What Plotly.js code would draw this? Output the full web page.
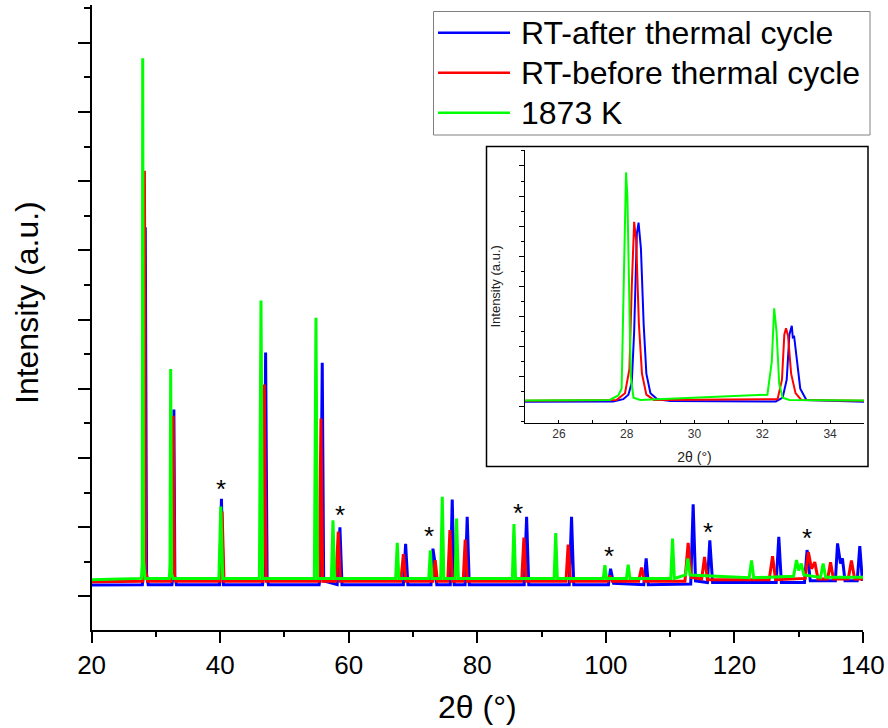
<!DOCTYPE html>
<html>
<head>
<meta charset="utf-8">
<script src="https://cdn.plot.ly/plotly-3.0.1.min.js"></script>
<style>html,body{margin:0;padding:0;background:#fff;}#chart{width:888px;height:728px;}</style>
</head>
<body>
<div id="chart"></div>
<script>
// ---------- Main pattern data (2θ in degrees, intensity in a.u.) ----------
const seriesNames = ['RT-after thermal cycle', 'RT-before thermal cycle', '1873 K'];
const seriesColors = ['#0000FF', '#FF0000', '#00FF00'];

const blueX = [20, 27.9, 28.15, 28.35, 28.55, 28.8, 32.5, 32.7, 32.8, 32.95, 33.2, 39.9, 40.2, 40.5,
  46.6, 46.85, 47.07, 47.3, 47.5, 55.4, 55.6, 55.88, 56.1, 58.2, 58.63, 58.95, 68.5, 68.85, 69.2,
  72.8, 73.1, 73.4, 73.7, 75.8, 76.1, 76.4, 78.1, 78.43, 78.75, 87.3, 87.67, 88.0, 94.3, 94.66, 95.0,
  100.4, 100.73, 101.2, 105.9, 106.27, 106.6, 113.2, 113.58, 113.95, 115.8, 116.17, 116.6,
  126.5, 126.9, 127.3, 130.9, 131.3, 131.8, 135.7, 136.04, 136.5, 136.8, 137.2, 139.1, 139.5, 139.9];
const blueY = [0.33, 0.34, 0.75, 10.67, 0.65, 0.34, 0.34, 0.65, 5.4, 0.6, 0.34, 0.34, 2.82, 0.34,
  0.34, 0.85, 7.05, 0.55, 0.34, 0.34, 0.65, 6.75, 0.45, 0.34, 2.0, 0.34, 0.34, 1.52, 0.34,
  0.34, 1.38, 1.0, 0.34, 0.34, 2.8, 0.34, 0.34, 2.3, 0.34, 0.34, 2.3, 0.34, 0.34, 2.3, 0.34,
  0.34, 0.8, 0.38, 0.34, 1.1, 0.34, 0.36, 2.66, 0.45, 0.4, 1.62, 0.4,
  0.4, 1.72, 0.4, 0.4, 1.34, 0.45, 0.45, 1.53, 0.95, 1.1, 0.45, 0.45, 1.45, 0.45];

const redX = [20, 27.95, 28.1, 28.22, 28.4, 28.7, 32.4, 32.55, 32.7, 32.9, 33.1, 40.0, 40.3, 40.6,
  46.6, 46.86, 47.15, 55.4, 55.68, 55.95, 58.0, 58.37, 58.7, 68.1, 68.5, 68.9, 73.1, 73.45, 73.8,
  75.4, 75.74, 76.1, 77.8, 78.12, 78.45, 86.9, 87.25, 87.6, 93.8, 94.13, 94.5, 100.3, 100.6, 101.0,
  105.1, 105.55, 106.0, 112.3, 112.8, 113.3, 114.9, 115.35, 115.8, 125.4, 125.93, 126.4,
  131.0, 131.5, 132.0, 132.5, 133.0, 134.5, 134.95, 135.4, 137.7, 138.2, 138.7, 140];
const redY = [0.42, 0.44, 0.95, 12.3, 0.75, 0.44, 0.44, 0.75, 5.22, 0.55, 0.44, 0.44, 2.45, 0.44,
  0.44, 6.12, 0.44, 0.44, 5.14, 0.44, 0.44, 1.87, 0.44, 0.44, 1.22, 0.44, 0.44, 1.05, 0.44,
  0.44, 1.92, 0.44, 0.44, 1.64, 0.44, 0.44, 1.7, 0.44, 0.44, 1.5, 0.44, 0.44, 0.6, 0.44,
  0.44, 0.83, 0.44, 0.44, 1.55, 0.55, 0.5, 1.14, 0.48, 0.48, 1.16, 0.48,
  0.52, 1.28, 0.8, 0.99, 0.5, 0.5, 0.99, 0.5, 0.5, 1.04, 0.5, 0.5];

const greenX = [20, 27.75, 27.88, 27.95, 28.08, 28.3, 32.1, 32.2, 32.3, 32.45, 32.7, 39.8, 40.1, 40.4,
  46.1, 46.35, 46.6, 54.65, 54.9, 55.15, 57.3, 57.55, 57.8, 67.3, 67.55, 67.8, 72.45, 72.7, 72.95,
  74.3, 74.55, 74.8, 76.55, 76.78, 77.05, 85.45, 85.7, 85.95, 91.95, 92.2, 92.45, 99.6, 99.85, 100.1,
  103.2, 103.47, 103.75, 110.1, 110.37, 110.65, 112.4, 112.75, 113.1, 122.3, 122.66, 123.0,
  129.2, 129.66, 130.0, 130.4, 130.8, 133.4, 133.8, 134.2, 140];
const greenY = [0.48, 0.52, 0.95, 15.55, 1.05, 0.52, 0.52, 0.95, 6.57, 0.65, 0.52, 0.52, 2.6, 0.52,
  0.52, 8.55, 0.52, 0.52, 8.05, 0.52, 0.52, 2.2, 0.52, 0.52, 1.55, 0.52, 0.52, 1.33, 0.52,
  0.52, 2.88, 0.52, 0.52, 2.25, 0.52, 0.52, 2.09, 0.52, 0.52, 1.83, 0.52, 0.52, 0.9, 0.52,
  0.52, 0.92, 0.52, 0.52, 1.67, 0.52, 0.62, 1.1, 0.62, 0.54, 1.04, 0.54,
  0.58, 1.05, 0.75, 0.95, 0.62, 0.55, 0.95, 0.55, 0.55];

// asterisk markers (phase peaks)
const starX = [40.2, 58.63, 72.5, 86.36, 100.47, 115.9, 131.3];
const starY = [3.26, 2.51, 1.9, 2.55, 1.31, 2.01, 1.82];

// ---------- Inset data (zoom on 25–35°) ----------
const insetBlueX = [25, 27.6, 27.9, 28.05, 28.15, 28.22, 28.3, 28.35, 28.42, 28.5, 28.58, 28.7, 28.9, 29.3,
  32.4, 32.6, 32.72, 32.8, 32.87, 32.9, 32.94, 33.02, 33.12, 33.3, 35];
const insetBlueY = [0.33, 0.35, 0.5, 0.8, 1.6, 5, 11.5, 12.23, 10.5, 5.5, 2.2, 0.9, 0.5, 0.38,
  0.35, 0.6, 1.8, 4.8, 5.38, 4.6, 4.65, 3, 1.2, 0.45, 0.33];
const insetRedX = [25, 27.7, 27.95, 28.08, 28.15, 28.22, 28.28, 28.36, 28.45, 28.58, 28.8,
  32.45, 32.58, 32.65, 32.7, 32.76, 32.85, 32.98, 33.15, 35];
const insetRedY = [0.4, 0.45, 0.9, 2.5, 8, 12.29, 11, 5.5, 2.2, 0.8, 0.45,
  0.5, 1.8, 4.8, 5.21, 4.7, 2.2, 0.9, 0.45, 0.4];
const insetGreenX = [25, 27.5, 27.75, 27.85, 27.92, 27.98, 28.02, 28.07, 28.12, 28.2, 28.4,
  32.15, 32.28, 32.35, 32.42, 32.5, 32.6, 32.8, 35];
const insetGreenY = [0.42, 0.45, 0.75, 1.2, 9, 15.57, 14, 8, 2, 0.6, 0.45,
  0.8, 3, 6.54, 5, 1.5, 0.6, 0.45, 0.42];

const FONT = 'Liberation Sans, Arial, sans-serif';

const traces = [];
const mainX = [blueX, redX, greenX], mainY = [blueY, redY, greenY];
for (let i = 0; i < 3; i++) {
  traces.push({x: mainX[i], y: mainY[i], type: 'scatter', mode: 'lines', name: seriesNames[i],
    line: {color: seriesColors[i], width: 3}, xaxis: 'x', yaxis: 'y', showlegend: false});
}
const insX = [insetBlueX, insetRedX, insetGreenX], insY = [insetBlueY, insetRedY, insetGreenY];
for (let i = 0; i < 3; i++) {
  traces.push({x: insX[i], y: insY[i], type: 'scatter', mode: 'lines', name: seriesNames[i],
    line: {color: seriesColors[i], width: 2}, xaxis: 'x2', yaxis: 'y2', showlegend: false});
}

const W = 888, H = 728;
const px = v => v / W, py = v => 1 - v / H;

const annotations = starX.map((x, i) => ({x: x, y: starY[i], xref: 'x', yref: 'y', text: '*',
  showarrow: false, yshift: -5, font: {family: FONT, size: 26, color: '#000'}}));

// main y-axis title (placed to match the reference position)
annotations.push({xref: 'paper', yref: 'paper', x: px(27), y: py(303), xanchor: 'center', yanchor: 'middle',
  text: 'Intensity (a.u.)', textangle: -90, showarrow: false, font: {family: FONT, size: 32, color: '#000'}});

// manual legend (long line samples as in reference)
const legRows = [32.7, 72.7, 112.7];
const shapes = [
  {type: 'rect', xref: 'paper', yref: 'paper', x0: px(433.5), x1: px(870), y0: py(135), y1: py(11.5),
    line: {color: '#808080', width: 1}, fillcolor: 'rgba(0,0,0,0)'},
  {type: 'rect', xref: 'paper', yref: 'paper', x0: px(486.5), x1: px(868), y0: py(466.5), y1: py(146.5),
    line: {color: '#000', width: 1.5}, fillcolor: 'rgba(0,0,0,0)'}
];
legRows.forEach((r, i) => {
  shapes.push({type: 'line', xref: 'paper', yref: 'paper', x0: px(438), x1: px(510), y0: py(r), y1: py(r),
    line: {color: seriesColors[i], width: 2.5}});
  annotations.push({xref: 'paper', yref: 'paper', x: px(519), y: py(r), xanchor: 'left', yanchor: 'middle',
    text: seriesNames[i], showarrow: false, font: {family: FONT, size: 32, color: '#000'}});
});

const layout = {
  width: W, height: H,
  margin: {l: 0, r: 0, t: 0, b: 0},
  paper_bgcolor: '#fff', plot_bgcolor: 'rgba(0,0,0,0)',
  font: {family: FONT, color: '#000'},
  showlegend: false,
  xaxis: {domain: [px(91.6), px(863)], range: [20, 140], tick0: 0, dtick: 20,
    ticks: 'outside', ticklen: 11, tickwidth: 2, tickcolor: '#000',
    showline: true, linewidth: 2, linecolor: '#000', showgrid: false, zeroline: false,
    tickfont: {family: FONT, size: 26, color: '#000'},
    minor: {dtick: 10, ticks: 'outside', ticklen: 5, tickwidth: 2, tickcolor: '#000', showgrid: false},
    title: {text: '2θ (°)', standoff: 17, font: {family: FONT, size: 32, color: '#000'}}},
  yaxis: {domain: [py(629.8), py(5)], range: [-0.965, 17.09], tick0: 0, dtick: 2,
    ticks: 'outside', ticklen: 12, tickwidth: 2, tickcolor: '#000', showticklabels: false,
    showline: true, linewidth: 2, linecolor: '#000', showgrid: false, zeroline: false,
    minor: {dtick: 1, ticks: 'outside', ticklen: 6, tickwidth: 2, tickcolor: '#000', showgrid: false}},
  xaxis2: {domain: [px(525), px(864)], range: [25, 35], anchor: 'y2', tick0: 0, dtick: 2,
    ticks: 'inside', ticklen: 3, tickwidth: 1, tickcolor: '#000',
    showline: true, linewidth: 1, linecolor: '#000', showgrid: false, zeroline: false,
    tickfont: {family: FONT, size: 12, color: '#333'},
    minor: {dtick: 1, ticks: 'inside', ticklen: 3, tickwidth: 1, tickcolor: '#000', showgrid: false},
    title: {text: '2θ (°)', standoff: 12, font: {family: FONT, size: 14, color: '#222'}}},
  yaxis2: {domain: [py(422.7), py(150)], range: [-1.063, 17.06], anchor: 'x2', tick0: 0, dtick: 2,
    ticks: 'outside', ticklen: 5, tickwidth: 1, tickcolor: '#000', showticklabels: false,
    showline: true, linewidth: 1, linecolor: '#000', showgrid: false, zeroline: false,
    minor: {dtick: 1, ticks: 'outside', ticklen: 3, tickwidth: 1, tickcolor: '#000', showgrid: false},
    title: {text: 'Intensity (a.u.)', standoff: 15, font: {family: FONT, size: 13, color: '#222'}}},
  shapes: shapes,
  annotations: annotations
};

Plotly.newPlot('chart', traces, layout, {displayModeBar: false, staticPlot: true});
</script>
</body>
</html>
